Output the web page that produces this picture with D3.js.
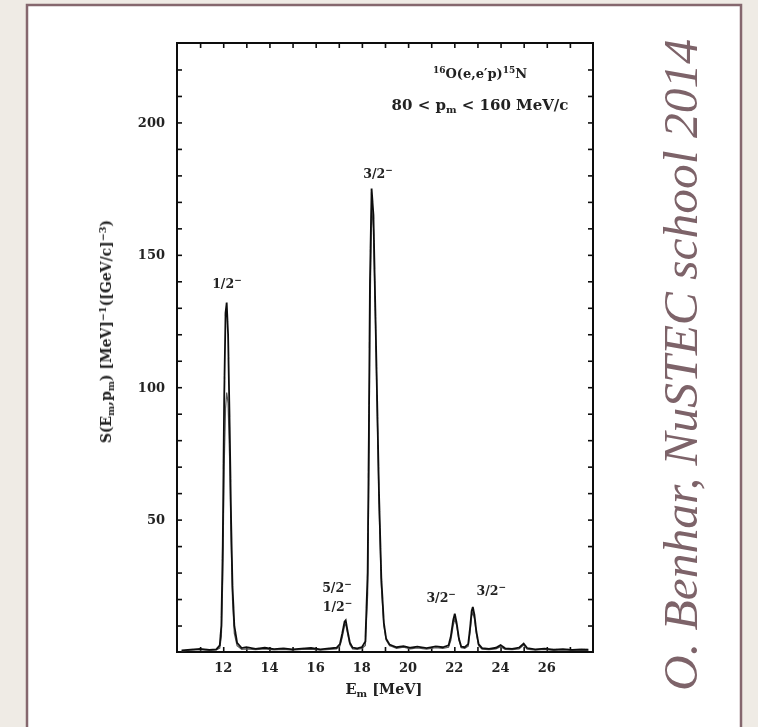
<!DOCTYPE html>
<html>
<head>
  <title>16O(e,e'p)15N missing energy spectrum</title>
  <style>
    body { margin: 0; background: #efebe5; }
    svg { display: block; }
  </style>
  <script src="https://d3js.org/d3.v7.min.js"></script>
</head>
<body>
  <div id="graph"></div>
  <script>
    // missing energy grid [MeV] and spectral strength
    const energy = [
      10.2, 10.6, 11.0, 11.4, 11.7, 11.85, 11.92, 11.98, 12.04, 12.1, 12.15, 12.21, 12.28, 12.34, 12.4, 12.48, 12.6, 12.8,
      13.0, 13.4, 13.8, 14.2, 14.6, 15.0, 15.4, 15.8, 16.2, 16.6, 16.9, 17.05, 17.15, 17.25, 17.3, 17.38, 17.48, 17.6, 17.8,
      18.0, 18.15, 18.25, 18.3, 18.35, 18.42, 18.5, 18.58, 18.66, 18.74, 18.84, 18.95, 19.05, 19.2, 19.5, 19.8,
      20.1, 20.4, 20.8, 21.2, 21.5, 21.75, 21.85, 21.95, 22.02, 22.1, 22.2, 22.3, 22.45, 22.6, 22.68, 22.75, 22.8, 22.87, 22.95,
      23.05, 23.2, 23.5, 23.8, 24.0, 24.2, 24.5, 24.8, 25.0, 25.15, 25.5, 25.9, 26.3, 26.7, 27.1, 27.5, 27.8
    ];
    const strengthA = [
      0.6, 0.9, 1.2, 0.8, 1.0, 2.5, 10, 40, 95, 128, 132, 120, 85, 50, 25, 10, 3.5, 1.5,
      1.8, 1.2, 1.6, 1.1, 1.4, 1.0, 1.3, 1.5, 1.0, 1.4, 1.6, 3, 7, 11.5, 12, 8, 3.5, 1.6, 1.4,
      1.8, 4, 30, 80, 140, 175, 165, 130, 95, 60, 28, 11, 5, 2.8, 1.8, 2.2,
      1.6, 2.0, 1.5, 2.1, 1.8, 2.5, 6, 12, 14.5, 11, 5, 2, 1.8, 3, 9, 15.5, 17, 14, 8,
      3, 1.5, 1.2, 1.6, 2.6, 1.4, 1.2, 1.6, 3.2, 1.5, 1.0, 1.3, 0.9, 1.1, 0.8, 1.0, 0.9
    ];
    const strengthB = [
      0.4, 0.7, 0.9, 0.6, 0.8, 1.5, 6, 28, 70, 92, 98, 94, 72, 42, 20, 7, 2.4, 1.0,
      1.2, 0.9, 1.2, 0.8, 1.0, 0.7, 1.0, 1.1, 0.7, 1.0, 1.2, 2.2, 5.5, 10, 10.5, 7, 2.8, 1.2, 1.0,
      1.3, 2.5, 22, 66, 125, 168, 160, 128, 92, 56, 25, 10, 4.5, 2.4, 1.4, 1.8,
      1.2, 1.5, 1.1, 1.6, 1.4, 1.8, 4.5, 10, 12.5, 10, 4.5, 1.6, 1.4, 2.2, 7.5, 13.5, 15, 12.5, 7,
      2.4, 1.1, 0.9, 1.2, 2.0, 1.0, 0.9, 1.2, 2.6, 1.1, 0.7, 1.0, 0.6, 0.8, 0.6, 0.7, 0.6
    ];

    const xTicks = [12, 14, 16, 18, 20, 22, 24, 26];
    const yTicks = [50, 100, 150, 200];

    // shell labels: spin-parity, energy and height where the label sits
    const stateNames = ["1/2", "3/2", "5/2", "1/2", "3/2", "3/2"];
    const stateE = [12.16, 18.7, 16.92, 16.95, 21.43, 23.6];
    const stateS = [137.5, 179, 22.5, 15.5, 19, 21.5];

    const W = 758, H = 727;
    const margin = { top: 43, right: 165, bottom: 75, left: 177 };
    const pw = W - margin.left - margin.right;
    const ph = H - margin.top - margin.bottom;

    const svg = d3.select("#graph").append("svg")
      .attr("width", W).attr("height", H);

    // slide frame
    svg.append("rect").attr("width", W).attr("height", H).attr("fill", "#efebe5");
    svg.append("rect")
      .attr("x", 27).attr("y", 5).attr("width", 714).attr("height", H + 10)
      .attr("fill", "#fff").attr("stroke", "#85676e").attr("stroke-width", 2.5);

    // soft blur to look like the scanned figure
    const defs = svg.append("defs");
    defs.append("filter").attr("id", "scan")
      .append("feGaussianBlur").attr("stdDeviation", 0.6);

    const g = svg.append("g")
      .attr("transform", `translate(${margin.left},${margin.top})`)
      .attr("filter", "url(#scan)");

    const x = d3.scaleLinear().domain([10, 28]).range([0, pw]);
    const y = d3.scaleLinear().domain([0, 230]).range([ph, 0]);

    const font = "'DejaVu Serif', serif";

    // inward ticks on all four sides
    const minorX = d3.range(11, 28, 1);
    const minorY = d3.range(10, 230, 10);
    g.append("g").call(d3.axisTop(x).tickValues(minorX).tickSize(-5).tickFormat(""));
    g.append("g").attr("transform", `translate(0,${ph})`)
      .call(d3.axisBottom(x).tickValues(minorX).tickSize(-5).tickFormat(""));
    g.append("g").call(d3.axisLeft(y).tickValues(minorY).tickSize(-5).tickFormat(""));
    g.append("g").attr("transform", `translate(${pw},0)`)
      .call(d3.axisRight(y).tickValues(minorY).tickSize(-5).tickFormat(""));
    g.selectAll(".domain").remove();
    g.selectAll(".tick line").attr("stroke", "#111").attr("stroke-width", 1.6);

    // box
    g.append("rect").attr("width", pw).attr("height", ph)
      .attr("fill", "none").attr("stroke", "#111").attr("stroke-width", 2);

    // tick labels
    g.selectAll(".xl").data(xTicks).join("text")
      .attr("x", d => x(d)).attr("y", ph + 20)
      .attr("text-anchor", "middle")
      .attr("font-family", font).attr("font-weight", "bold").attr("font-size", 13)
      .attr("fill", "#222").text(d => d);
    g.selectAll(".yl").data(yTicks).join("text")
      .attr("x", -12).attr("y", d => y(d)).attr("dy", "0.35em")
      .attr("text-anchor", "end")
      .attr("font-family", font).attr("font-weight", "bold").attr("font-size", 13)
      .attr("fill", "#222").text(d => d);

    // spectrum, drawn as two close outlines like the scan
    const pts = (vals) => energy.map((e, i) => [e, vals[i]]);
    const line = d3.line().x(d => x(d[0])).y(d => y(d[1]));
    g.append("path").datum(pts(strengthB))
      .attr("fill", "none").attr("stroke", "#555").attr("stroke-width", 1.2).attr("d", line);
    g.append("path").datum(pts(strengthA))
      .attr("fill", "none").attr("stroke", "#111").attr("stroke-width", 1.8).attr("d", line);

    // state labels
    stateNames.forEach((n, i) => {
      const t = g.append("text")
        .attr("x", x(stateE[i])).attr("y", y(stateS[i]))
        .attr("text-anchor", "middle")
        .attr("font-family", font).attr("font-weight", "bold").attr("font-size", 12.5)
        .attr("fill", "#222");
      t.append("tspan").text(n);
      t.append("tspan").attr("font-size", 9).attr("dy", -5).text("\u2212");
    });

    // reaction note
    const note1 = g.append("text")
      .attr("x", 303).attr("y", 35).attr("text-anchor", "middle")
      .attr("font-family", font).attr("font-weight", "bold").attr("font-size", 13).attr("fill", "#222");
    note1.append("tspan").attr("font-size", 9).attr("dy", -5).text("16");
    note1.append("tspan").attr("dy", 5).text("O(e,e\u2032p)");
    note1.append("tspan").attr("font-size", 9).attr("dy", -5).text("15");
    note1.append("tspan").attr("dy", 5).text("N");

    const note2 = g.append("text")
      .attr("x", 303).attr("y", 67).attr("text-anchor", "middle")
      .attr("font-family", font).attr("font-weight", "bold").attr("font-size", 15).attr("fill", "#222");
    note2.append("tspan").text("80 < p");
    note2.append("tspan").attr("font-size", 10).attr("dy", 3).text("m");
    note2.append("tspan").attr("dy", -3).text(" < 160 MeV/c");

    // axis titles
    const xt = g.append("text")
      .attr("x", pw / 2 - 1).attr("y", ph + 42).attr("text-anchor", "middle")
      .attr("font-family", font).attr("font-weight", "bold").attr("font-size", 14.5).attr("fill", "#222");
    xt.append("tspan").text("E");
    xt.append("tspan").attr("font-size", 10).attr("dy", 3).text("m");
    xt.append("tspan").attr("dy", -3).text(" [MeV]");

    const yt = g.append("text")
      .attr("transform", `translate(-66,${y(121)}) rotate(-90)`)
      .attr("text-anchor", "middle")
      .attr("font-family", font).attr("font-weight", "bold").attr("font-size", 14).attr("fill", "#222");
    yt.append("tspan").text("S(E");
    yt.append("tspan").attr("font-size", 9.5).attr("dy", 3).text("m");
    yt.append("tspan").attr("dy", -3).text(",p");
    yt.append("tspan").attr("font-size", 9.5).attr("dy", 3).text("m");
    yt.append("tspan").attr("dy", -3).text(") [MeV]");
    yt.append("tspan").attr("font-size", 9.5).attr("dy", -5).text("\u22121");
    yt.append("tspan").attr("dy", 5).text("([GeV/c]");
    yt.append("tspan").attr("font-size", 9.5).attr("dy", -5).text("\u22123");
    yt.append("tspan").attr("dy", 5).text(")");

    // credit on the right of the slide
    svg.append("text")
      .attr("transform", "translate(697,365) rotate(-90)")
      .attr("text-anchor", "middle")
      .attr("font-family", "'Liberation Serif', serif").attr("font-style", "italic")
      .attr("font-size", 49.5).attr("fill", "#7d6369")
      .text("O. Benhar, NuSTEC school 2014");
  </script>
</body>
</html>
